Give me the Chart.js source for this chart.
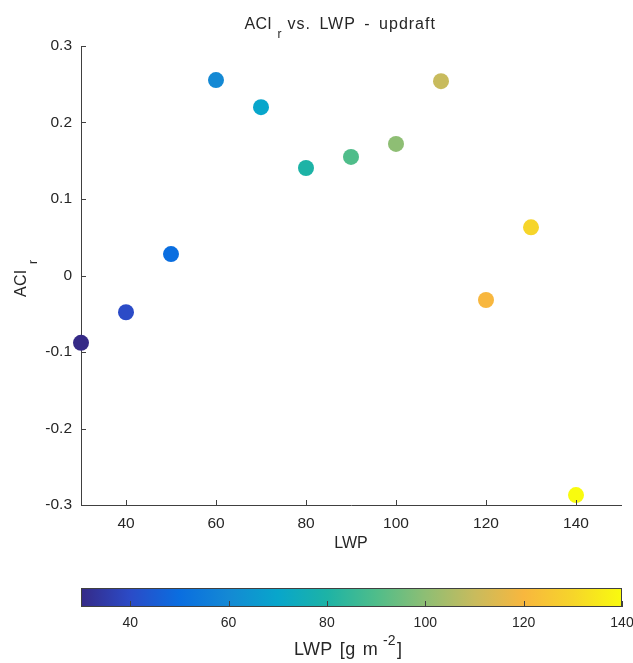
<!DOCTYPE html>
<html>
<head>
<meta charset="utf-8">
<script src="https://cdn.jsdelivr.net/npm/chart.js@4/dist/chart.umd.min.js"></script>
<style>
  html, body { margin: 0; padding: 0; background: #ffffff; }
  #wrap { position: relative; width: 633px; height: 663px; }
  #main { position: absolute; left: 0; top: 0; }
  #cbar { position: absolute; left: 0; top: 560px; }
</style>
</head>
<body>
<div id="wrap">
  <canvas id="main" width="633" height="560"></canvas>
  <canvas id="cbar" width="633" height="103"></canvas>
</div>
<script>
// Liquid water path (g m^-2) and the matching ACI_r values in updrafts
const lwp = [30, 40, 50, 60, 70, 80, 90, 100, 110, 120, 130, 140];
const aciR = [-0.088, -0.048, 0.028, 0.2555, 0.220, 0.1405, 0.155, 0.172, 0.254, -0.032, 0.063, -0.287];

// Axis ticks
const xTicks = [40, 60, 80, 100, 120, 140];
const yTicks = [-0.3, -0.2, -0.1, 0, 0.1, 0.2, 0.3];
const yTickLabels = ['-0.3', '-0.2', '-0.1', '0', '0.1', '0.2', '0.3'];
const cbarTicks = [40, 60, 80, 100, 120, 140];

// Colour limits and parula-like colormap (evenly spaced stops)
const cMin = 30, cMax = 140;
const parula = ['#352a87', '#2b4bc7', '#0a6ee0', '#1489d4', '#08a6cb', '#1db3a6',
                '#4fbd8a', '#8ebe74', '#c8bb5d', '#f8b73e', '#f6d52a', '#f9fb0e'];

const FONT = '"Liberation Sans", Arial, Helvetica, sans-serif';
const TEXT = '#262626';
const AXIS = '#404040';

function hexToRgb(h) {
  const n = parseInt(h.slice(1), 16);
  return [(n >> 16) & 255, (n >> 8) & 255, n & 255];
}
function cmap(v) {
  let t = (v - cMin) / (cMax - cMin);
  t = Math.max(0, Math.min(1, t));
  const f = t * (parula.length - 1);
  const i = Math.min(parula.length - 2, Math.floor(f));
  const u = f - i;
  const a = hexToRgb(parula[i]), b = hexToRgb(parula[i + 1]);
  const c = a.map((x, k) => Math.round(x + (b[k] - x) * u));
  return 'rgb(' + c.join(',') + ')';
}

// Draws text pieces: [text, fontSize, dy, dx, letterSpacing, wordSpacing] from an origin
function drawPieces(ctx, pieces, x0, y0) {
  pieces.forEach(p => {
    ctx.font = p[1] + 'px ' + FONT;
    ctx.letterSpacing = (p[4] || 0) + 'px';
    ctx.wordSpacing = (p[5] || 0) + 'px';
    ctx.fillText(p[0], x0 + p[3], y0 + p[2]);
  });
  ctx.letterSpacing = '0px';
  ctx.wordSpacing = '0px';
}

const mainDecor = {
  id: 'mainDecor',
  afterDraw(chart) {
    const ctx = chart.ctx;
    const xs = chart.scales.x, ys = chart.scales.y;
    const a = chart.chartArea;
    ctx.save();
    // inward tick marks
    ctx.strokeStyle = AXIS;
    ctx.lineWidth = 1;
    ctx.beginPath();
    xs.ticks.forEach(t => {
      const px = Math.round(xs.getPixelForValue(t.value)) + 0.5;
      ctx.moveTo(px, a.bottom);
      ctx.lineTo(px, a.bottom - 5);
    });
    ys.ticks.forEach(t => {
      const py = Math.round(ys.getPixelForValue(t.value)) + 0.5;
      ctx.moveTo(a.left, py);
      ctx.lineTo(a.left + 5, py);
    });
    ctx.stroke();

    ctx.fillStyle = TEXT;
    ctx.textBaseline = 'alphabetic';
    ctx.textAlign = 'left';
    // title: ACI_r vs. LWP - updraft
    drawPieces(ctx, [
      ['ACI', 16, 0, 0, 0.3, 0],
      ['r', 12, 9, 33, 0, 0],
      ['vs. LWP - updraft', 16, 0, 43, 1, 3]
    ], 244.5, 29);
    // x label
    ctx.font = '16px ' + FONT;
    ctx.textAlign = 'center';
    ctx.fillText('LWP', (a.left + a.right) / 2, 548);
    ctx.textAlign = 'left';
    // y label (rotated): ACI_r
    ctx.translate(25.5, 297);
    ctx.rotate(-Math.PI / 2);
    drawPieces(ctx, [['ACI', 16, 0, 0, 0.3, 0], ['r', 12, 11, 33, 0, 0]], 0, 0);
    ctx.restore();
  }
};

new Chart(document.getElementById('main'), {
  type: 'scatter',
  data: {
    datasets: [{
      data: lwp.map((v, i) => ({ x: v, y: aciR[i] })),
      backgroundColor: lwp.map(cmap),
      borderWidth: 0,
      pointRadius: 8,
      pointHoverRadius: 8,
      clip: false
    }]
  },
  options: {
    responsive: false,
    devicePixelRatio: 1,
    animation: false,
    events: [],
    layout: { padding: { left: 0, right: 12, top: 46, bottom: 0 } },
    plugins: { legend: { display: false }, tooltip: { enabled: false }, title: { display: false } },
    scales: {
      x: {
        type: 'linear', position: 'bottom', min: 30, max: 150,
        afterBuildTicks: s => { s.ticks = xTicks.map(v => ({ value: v })); },
        afterFit: s => { s.height = 55; s.paddingLeft = 0; s.paddingRight = 0; },
        grid: { display: false, drawTicks: false },
        border: { display: true, color: AXIS, width: 1 },
        ticks: { color: TEXT, font: { family: FONT, size: 15.5 }, padding: 9, maxRotation: 0,
                 callback: v => String(v) }
      },
      y: {
        type: 'linear', position: 'left', min: -0.3, max: 0.3,
        afterBuildTicks: s => { s.ticks = yTicks.map(v => ({ value: v })); },
        afterFit: s => { s.width = 81; s.paddingTop = 0; s.paddingBottom = 0; },
        grid: { display: false, drawTicks: false },
        border: { display: true, color: AXIS, width: 1 },
        ticks: { color: TEXT, font: { family: FONT, size: 15.5 }, padding: 9,
                 callback: (v, i) => yTickLabels[i] }
      }
    }
  },
  plugins: [mainDecor]
});

// Colour bar: gradient over the colour limits, box and inward ticks
const cbarDecor = {
  id: 'cbarDecor',
  beforeDatasetsDraw(chart) {
    const ctx = chart.ctx, a = chart.chartArea, xs = chart.scales.x;
    const g = ctx.createLinearGradient(xs.getPixelForValue(cMin), 0, xs.getPixelForValue(cMax), 0);
    parula.forEach((c, i) => g.addColorStop(i / (parula.length - 1), c));
    ctx.save();
    ctx.fillStyle = g;
    ctx.fillRect(a.left, a.top, a.right - a.left, a.bottom - a.top);
    ctx.restore();
  },
  afterDraw(chart) {
    const ctx = chart.ctx, a = chart.chartArea, xs = chart.scales.x;
    ctx.save();
    ctx.strokeStyle = AXIS;
    ctx.lineWidth = 1;
    ctx.strokeRect(a.left + 0.5, a.top + 0.5, a.right - a.left - 1, a.bottom - a.top - 1);
    ctx.beginPath();
    xs.ticks.forEach(t => {
      const px = Math.round(xs.getPixelForValue(t.value)) + 0.5;
      ctx.moveTo(px, a.bottom);
      ctx.lineTo(px, a.bottom - 6);
    });
    ctx.stroke();
    ctx.fillStyle = TEXT;
    ctx.textBaseline = 'alphabetic';
    ctx.textAlign = 'left';
    // colour bar label: LWP [g m^-2]
    drawPieces(ctx, [
      ['LWP [g m', 18, 0, 0, 0.3, 2],
      ['-2', 14, -10, 89, 0, 0],
      [']', 18, 0, 103, 0, 0]
    ], 294, 95);
    ctx.restore();
  }
};

new Chart(document.getElementById('cbar'), {
  type: 'scatter',
  data: { datasets: [] },
  options: {
    responsive: false,
    devicePixelRatio: 1,
    animation: false,
    events: [],
    layout: { padding: { left: 81, right: 11, top: 28, bottom: 0 } },
    plugins: { legend: { display: false }, tooltip: { enabled: false } },
    scales: {
      x: {
        type: 'linear', position: 'bottom', min: cMin, max: cMax,
        afterBuildTicks: s => { s.ticks = cbarTicks.map(v => ({ value: v })); },
        afterFit: s => { s.height = 56; s.paddingLeft = 0; s.paddingRight = 0; },
        grid: { display: false, drawTicks: false },
        border: { display: false },
        ticks: { color: TEXT, font: { family: FONT, size: 14 }, padding: 8, maxRotation: 0,
                 callback: v => String(v) }
      },
      y: { display: false, min: 0, max: 1 }
    }
  },
  plugins: [cbarDecor]
});
</script>
</body>
</html>
